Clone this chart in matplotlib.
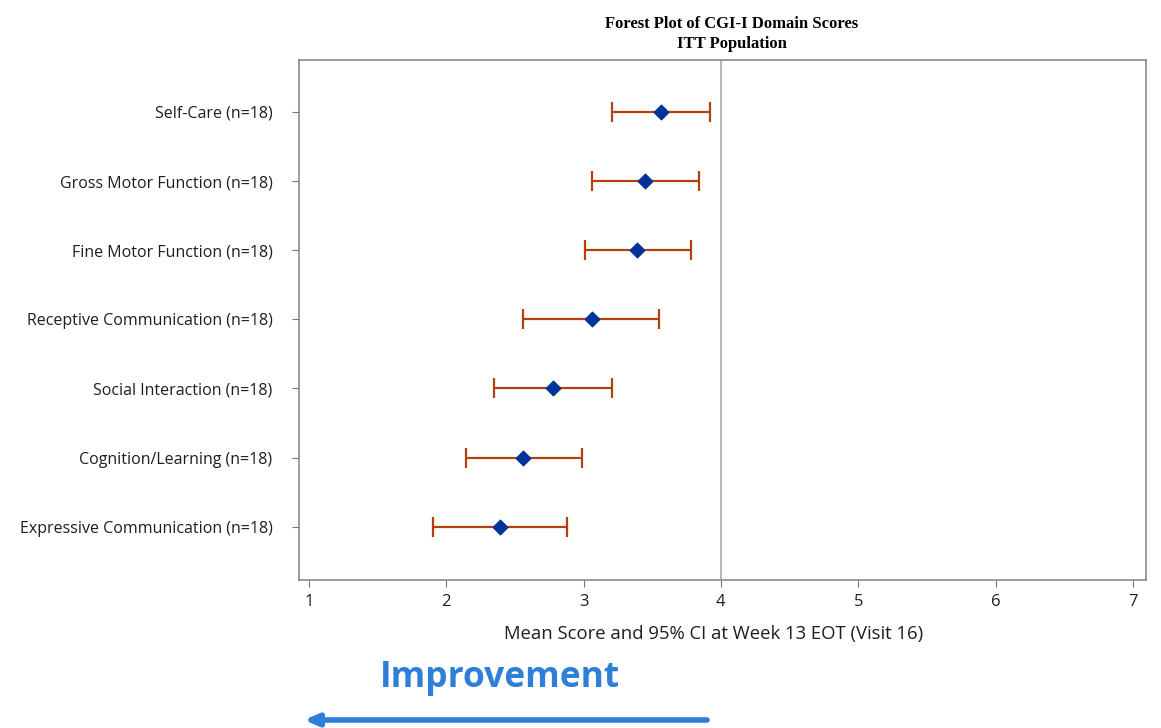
import numpy as np
import matplotlib.pyplot as plt

# domains listed bottom to top
domains = ["Expressive Communication (n=18)", "Cognition/Learning (n=18)",
           "Social Interaction (n=18)", "Receptive Communication (n=18)",
           "Fine Motor Function (n=18)", "Gross Motor Function (n=18)",
           "Self-Care (n=18)"]
means = [2.39, 2.56, 2.78, 3.06, 3.39, 3.45, 3.56]
lower = [1.90, 2.14, 2.35, 2.56, 3.01, 3.06, 3.21]
upper = [2.88, 2.99, 3.21, 3.55, 3.78, 3.84, 3.92]
xticks = [1, 2, 3, 4, 5, 6, 7]

means = np.array(means)
err = [means - np.array(lower), np.array(upper) - means]
y = np.arange(len(domains))

txt = "#1e1e1e"
fig = plt.figure(figsize=(11.61, 7.28), dpi=100)
ax = fig.add_axes([0.2575, 0.2033, 0.7295, 0.7143])

ax.axvline(4, color="#b0b0b0", lw=1.3, zorder=1)
ax.errorbar(means, y, xerr=err, fmt="none", ecolor="#b5400f", elinewidth=1.6,
            capsize=7, capthick=1.6, zorder=2)
ax.scatter(means, y, marker="D", s=55, color="#003399", zorder=3)

ax.set_xlim(0.927, 7.095)
ax.set_ylim(-0.77, 6.75)
ax.set_xticks(xticks)
ax.set_yticks(y)
ax.set_yticklabels(domains, fontsize=11.5, family="Open Sans", color=txt)
ax.tick_params(axis="x", labelsize=12, length=5, color="#777777", pad=5,
               labelcolor=txt)
ax.tick_params(axis="y", length=5, color="#777777", pad=14)
for lab in ax.get_xticklabels():
    lab.set_family("Open Sans")
for s in ax.spines.values():
    s.set_color("#8a8a8a")
    s.set_linewidth(1.2)
ax.set_xlabel("Mean Score and 95% CI at Week 13 EOT (Visit 16)", fontsize=13.3,
              family="Open Sans", color=txt)
ax.xaxis.set_label_coords(0.489, -0.087)

fig.text(0.6305, 0.978, "Forest Plot of CGI-I Domain Scores\nITT Population",
         ha="center", va="top", fontsize=12, fontweight="bold",
         family="Liberation Serif", linespacing=1.3)

fig.text(0.431, 0.068, "Improvement", ha="center", va="center",
         fontsize=25.5, fontweight="bold", color="#2f7ed8", family="Open Sans")
ax.annotate("", xy=(0.262, 0.011), xytext=(0.609, 0.011),
            xycoords="figure fraction", textcoords="figure fraction",
            arrowprops=dict(arrowstyle="-|>,head_length=0.8,head_width=0.35",
                            color="#2f7ed8", lw=4, shrinkA=0, shrinkB=0))

fig.savefig("out.png", dpi=100)
